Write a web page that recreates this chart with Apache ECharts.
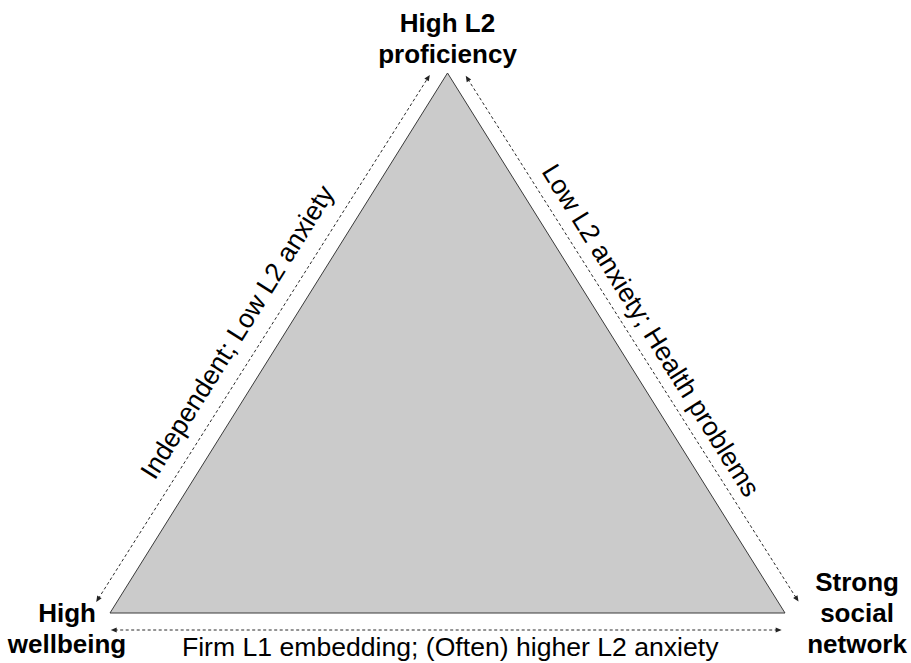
<!DOCTYPE html>
<html><head><meta charset="utf-8">
<script src="https://cdn.jsdelivr.net/npm/echarts@6/dist/echarts.min.js"></script>
<style>html,body{margin:0;padding:0;background:#fff}#c{width:911px;height:663px}</style>
</head><body><div id="c"></div>
<script>
// ---- data ----
const vertexNames = ['High\nwellbeing', 'High L2\nproficiency', 'Strong\nsocial\nnetwork'];
const vertexX = [0, 0.5, 1];
const vertexY = [0, 1, 0];
const edgeFrom = [0, 1, 0];
const edgeTo = [1, 2, 2];
const edgeLabels = ['Independent; Low L2 anxiety', 'Low L2 anxiety; Health problems', 'Firm L1 embedding; (Often) higher L2 anxiety'];

// ---- style config (pixels) ----
const FONT = '"Liberation Sans", Arial, Helvetica, sans-serif';
const vertexLabelOffset = [[-43, 15], [0, -35], [72, 0]];
const edgeStyle = [
  {startAlong: 2, endInset: 11, startPerp: 17.5, endPerp: 14, labelAt: 0.48, labelPerp: 41},
  {startAlong: 12, endInset: 2.5, startPerp: 14, endPerp: 17.5, labelAt: 0.512, labelPerp: 36},
  {startAlong: 0.7, endInset: 3.3, startPerp: 17, endPerp: 17, labelAt: 0.504, labelPerp: 34}
];

const vertexData = vertexX.map((x, i) => [x, vertexY[i]]);
const edgeData = edgeFrom.map((f, i) => [f, edgeTo[i]]);

function pts(api) { return vertexData.map(v => api.coord(v)); }

function arrowHead(tip, dir, len, hw) {
  const bx = tip[0] - dir[0] * len, by = tip[1] - dir[1] * len;
  return [[tip[0], tip[1]], [bx - dir[1] * hw, by + dir[0] * hw], [bx + dir[1] * hw, by - dir[0] * hw]];
}

const chart = echarts.init(document.getElementById('c'), null, {renderer: 'svg'});
chart.setOption({
  animation: false,
  backgroundColor: '#fff',
  grid: {left: 110, right: 126, top: 73, bottom: 50},
  xAxis: {type: 'value', min: 0, max: 1, show: false},
  yAxis: {type: 'value', min: 0, max: 1, show: false},
  series: [
    {
      type: 'custom', coordinateSystem: 'cartesian2d', data: vertexData, z: 1,
      renderItem: function (params, api) {
        const p = pts(api);
        const children = [];
        if (params.dataIndex === 0) {
          children.push({type: 'polygon', shape: {points: p},
            style: {fill: '#cbcbcb', stroke: '#3a3a3a', lineWidth: 1}});
        }
        const i = params.dataIndex;
        const q = api.coord([api.value(0), api.value(1)]);
        children.push({type: 'text', x: q[0] + vertexLabelOffset[i][0], y: q[1] + vertexLabelOffset[i][1],
          style: {text: vertexNames[i], font: 'bold 26px ' + FONT, lineHeight: 31,
            fill: '#000', align: 'center', verticalAlign: 'middle'}});
        return {type: 'group', children: children};
      }
    },
    {
      type: 'custom', coordinateSystem: 'cartesian2d', data: edgeData, z: 2,
      renderItem: function (params, api) {
        const p = pts(api);
        const i = params.dataIndex;
        const a = p[api.value(0)], b = p[api.value(1)];
        const cx = (p[0][0] + p[1][0] + p[2][0]) / 3, cy = (p[0][1] + p[1][1] + p[2][1]) / 3;
        const dx = b[0] - a[0], dy = b[1] - a[1];
        const L = Math.hypot(dx, dy);
        const d = [dx / L, dy / L];
        let n = [d[1], -d[0]];
        const mx = (a[0] + b[0]) / 2, my = (a[1] + b[1]) / 2;
        if (n[0] * (mx - cx) + n[1] * (my - cy) < 0) n = [-n[0], -n[1]];
        const s = edgeStyle[i];
        const s0 = s.startAlong, s1 = L - s.endInset;
        const P0 = [a[0] + d[0] * s0 + n[0] * s.startPerp, a[1] + d[1] * s0 + n[1] * s.startPerp];
        const P1 = [a[0] + d[0] * s1 + n[0] * s.endPerp, a[1] + d[1] * s1 + n[1] * s.endPerp];
        const ld = Math.hypot(P1[0] - P0[0], P1[1] - P0[1]);
        const u = [(P1[0] - P0[0]) / ld, (P1[1] - P0[1]) / ld];
        const t = s.labelAt * L;
        const lx = a[0] + d[0] * t + n[0] * s.labelPerp, ly = a[1] + d[1] * t + n[1] * s.labelPerp;
        const ang = -Math.atan2(dy, dx);
        return {type: 'group', children: [
          {type: 'line', shape: {x1: P0[0] + u[0] * 4, y1: P0[1] + u[1] * 4, x2: P1[0] - u[0] * 4, y2: P1[1] - u[1] * 4},
            style: {stroke: '#2a2a2a', lineWidth: 1, lineDash: [3, 2.5], fill: null}},
          {type: 'polygon', shape: {points: arrowHead(P0, [-u[0], -u[1]], 6, 2.6)}, style: {fill: '#222'}},
          {type: 'polygon', shape: {points: arrowHead(P1, u, 6, 2.6)}, style: {fill: '#222'}},
          {type: 'text', x: lx, y: ly, rotation: ang,
            style: {text: edgeLabels[i], font: '26.6px ' + FONT, fill: '#000', align: 'center', verticalAlign: 'middle'}}
        ]};
      }
    }
  ]
});
</script></body></html>
